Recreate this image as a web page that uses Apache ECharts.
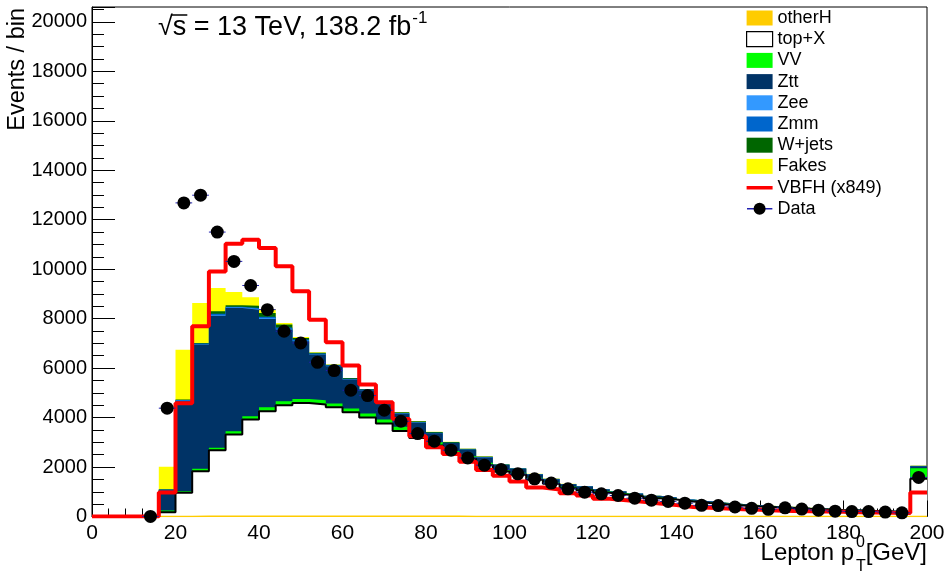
<!DOCTYPE html>
<html><head><meta charset="utf-8">
<script src="https://cdn.jsdelivr.net/npm/echarts@6/dist/echarts.min.js"></script>
<style>html,body{margin:0;padding:0;background:#fff}#c{width:949px;height:578px}</style>
</head><body><div id="c"></div>
<script>
// ---- data (bins of 4 GeV, 0-200; last bin includes overflow) ----
const binEdges = [0,4,8,12,16,20,24,28,32,36,40,44,48,52,56,60,64,68,72,76,80,84,88,92,96,100,104,108,112,116,120,124,128,132,136,140,144,148,152,156,160,164,168,172,176,180,184,188,192,196,200];
const xTicks = [0,20,40,60,80,100,120,140,160,180,200];
const yTicks = [0,2000,4000,6000,8000,10000,12000,14000,16000,18000,20000];

const otherH = [0,0,0,0,3,5,8,10,12,14,15,15,14,13,12,11,10,9,8,7,6,6,5,5,4,4,3,3,3,2,2,2,2,2,1,1,1,1,1,1,1,1,1,1,1,1,1,1,1,2];
const topX   = [0,0,0,0,172,953,1822,2670,3301,3905,4241,4483,4579,4512,4406,4204,3990,3749,3453,3171,2867,2533,2327,2072,1813,1684,1487,1320,1137,1057,957,888,815,734,682,604,542,486,448,404,369,343,308,281,254,237,219,201,188,1525];
const VV     = [0,0,0,0,67,64,96,95,137,134,162,162,162,175,148,149,162,161,163,135,125,115,105,95,85,80,72,65,58,54,50,46,42,38,36,32,30,27,25,23,21,20,18,17,16,15,14,13,12,420];
const Ztt    = [0,0,0,0,820,3640,5024,5346,4980,4311,3569,2896,2329,1845,1508,1171,938,640,530,480,366,313,261,218,183,161,139,122,104,96,83,74,65,57,52,45,40,35,31,28,25,23,20,18,17,15,14,13,12,87];
const Zee    = [0,0,0,0,10,20,20,25,20,30,30,25,20,15,12,10,10,8,8,6,6,5,5,4,3,3,2,2,2,2,1,1,1,1,1,1,1,1,1,0,0,0,0,0,0,0,0,0,0,2];
const Zmm    = [0,0,0,0,15,25,25,50,30,40,60,60,50,30,25,25,20,20,15,15,15,13,10,8,7,6,6,5,4,4,3,3,3,2,2,2,2,1,1,1,1,1,1,1,1,1,1,1,1,3];
const Wjets  = [0,0,0,0,10,20,15,100,60,91,150,120,66,30,20,25,25,28,33,33,33,29,24,20,17,15,13,11,10,8,8,7,6,5,5,4,3,3,3,3,3,2,2,2,1,1,1,1,1,8];
const Fakes  = [0,0,0,0,910,2020,1623,944,537,337,164,64,40,20,10,9,5,5,5,5,4,4,3,3,3,2,2,2,2,2,1,1,1,1,1,1,1,1,0,0,0,0,0,0,0,0,0,0,0,3];
const VBFH   = [0,0,0,0,970,4580,7690,9910,11030,11190,10855,10114,9104,7960,7044,6101,5333,4620,3947,3245,2800,2530,2215,1880,1650,1420,1170,1091,945,850,720,660,600,530,460,380,350,320,290,270,240,225,210,200,190,175,165,150,140,970];
const dataObs = [null,null,null,5,4380,12680,12990,11500,10315,9340,8364,7490,7018,6235,5900,5104,4889,4296,3852,3354,3044,2680,2370,2075,1900,1724,1522,1350,1120,983,916,848,741,660,610,540,450,440,385,330,290,350,300,256,215,200,200,180,148,1580];

const FONT = '"Liberation Sans", Arial, Helvetica, sans-serif';
const chart = echarts.init(document.getElementById('c'), null, {renderer: 'canvas'});

function stepPts(arr) { return binEdges.map((x, k) => [x, arr[Math.min(k, arr.length - 1)]]); }

const stackDefs = [
  {name: 'otherH', data: otherH, fill: '#ffcc00', line: '#ffcc00', lw: 1.5},
  {name: 'top+X', data: topX, fill: '#ffffff', line: '#000000', lw: 2},
  {name: 'VV', data: VV, fill: '#00ff00'},
  {name: 'Ztt', data: Ztt, fill: '#003366'},
  {name: 'Zee', data: Zee, fill: '#3399ff'},
  {name: 'Zmm', data: Zmm, fill: '#0066cc'},
  {name: 'W+jets', data: Wjets, fill: '#006600'},
  {name: 'Fakes', data: Fakes, fill: '#ffff00'}
];

// cumulative sums (stack), drawn from the top layer down so lower layers overlay
const cum = [];
stackDefs.forEach((d, k) => {
  cum.push(d.data.map((v, i) => v + (k > 0 ? cum[k - 1][i] : 0)));
});

const series = [];
for (let k = stackDefs.length - 1; k >= 0; k--) {
  const d = stackDefs[k];
  series.push({
    type: 'line', name: d.name, step: 'end',
    data: stepPts(cum[k]), symbol: 'none', showSymbol: false,
    lineStyle: d.lw ? {color: d.line, width: d.lw} : {width: 0, opacity: 0},
    areaStyle: {color: d.fill, opacity: 1},
    itemStyle: {color: d.fill},
    z: 2, silent: true, animation: false
  });
}

series.push({
  type: 'line', name: 'VBFH (x849)', step: 'end', data: stepPts(VBFH),
  symbol: 'none', showSymbol: false,
  lineStyle: {color: '#ff0000', width: 4}, itemStyle: {color: '#ff0000'},
  z: 3, silent: true, animation: false
});

const obsPts = [];
for (let i = 0; i < dataObs.length; i++) {
  if (dataObs[i] === null) continue;
  obsPts.push([(binEdges[i] + binEdges[i + 1]) / 2, dataObs[i], binEdges[i], binEdges[i + 1]]);
}

series.push({
  type: 'custom', name: 'Data', data: obsPts, encode: {x: 0, y: 1}, z: 4, silent: true, animation: false,
  renderItem: function (params, api) {
    const y = api.value(1);
    const p1 = api.coord([api.value(2), y]);
    const p2 = api.coord([api.value(3), y]);
    return {type: 'line', shape: {x1: p1[0], y1: p1[1], x2: p2[0], y2: p2[1]}, style: {stroke: '#2020b0', lineWidth: 1}};
  }
});
series.push({
  type: 'scatter', name: 'Data', data: obsPts.map(p => [p[0], p[1]]),
  symbol: 'circle', symbolSize: 13, itemStyle: {color: '#000000', opacity: 1}, z: 5, silent: true, animation: false
});

const redIcon = 'path://M0,0L0.01,0L0,0.01Z M0,6L26,6L26,9.5L0,9.5Z M26,15L25.99,15L26,14.99Z';
const dataSvg = "<svg xmlns='http://www.w3.org/2000/svg' width='26' height='15'><line x1='0' y1='7.5' x2='26' y2='7.5' stroke='#2020b0' stroke-width='1.5'/><circle cx='13' cy='7.5' r='6' fill='black'/></svg>";
const dataIcon = 'image://data:image/svg+xml;charset=utf-8,' + encodeURIComponent(dataSvg);

// measure text for the energy label
const mctx = document.createElement('canvas').getContext('2d');
function tw(txt, size) { mctx.font = size + 'px ' + FONT; return mctx.measureText(txt).width; }
const lumiMain = '\u221as = 13 TeV, 138.2 fb';
const lumiX = 158, lumiY = 28, lumiFs = 27;

const option = {
  animation: false,
  backgroundColor: '#ffffff',
  grid: {left: 92, right: 22, top: 7, bottom: 61.5, show: true, borderColor: '#000', borderWidth: 1, backgroundColor: 'transparent'},
  xAxis: {
    type: 'value', min: xTicks[0], max: xTicks[xTicks.length - 1], interval: 20,
    axisLine: {show: true, onZero: false, lineStyle: {color: '#000', width: 1}},
    axisTick: {show: true, inside: true, length: 16, lineStyle: {color: '#000'}},
    minorTick: {show: true, splitNumber: 5, length: 8, lineStyle: {color: '#000'}},
    splitLine: {show: false},
    axisLabel: {color: '#000', fontSize: 21, fontFamily: FONT, margin: 6}
  },
  yAxis: {
    type: 'value', min: yTicks[0], max: 20600, interval: 2000,
    axisLine: {show: true, lineStyle: {color: '#000', width: 1}},
    axisTick: {show: true, inside: true, length: 23, lineStyle: {color: '#000'}},
    minorTick: {show: true, splitNumber: 4, length: 12, lineStyle: {color: '#000'}},
    splitLine: {show: false},
    axisLabel: {color: '#000', fontSize: 20, fontFamily: FONT, margin: 5,
      formatter: v => (yTicks.indexOf(v) >= 0 ? String(v) : '')}
  },
  legend: {
    orient: 'vertical', left: 741, top: 4, itemWidth: 26, itemHeight: 15, itemGap: 3.2,
    selectedMode: false,
    textStyle: {fontSize: 18, color: '#000', fontFamily: FONT},
    data: [
      {name: 'otherH', icon: 'rect', itemStyle: {color: '#ffcc00', opacity: 1, borderWidth: 0}},
      {name: 'top+X', icon: 'rect', itemStyle: {color: '#ffffff', opacity: 1, borderColor: '#000', borderWidth: 1.2}},
      {name: 'VV', icon: 'rect', itemStyle: {color: '#00ff00', opacity: 1, borderWidth: 0}},
      {name: 'Ztt', icon: 'rect', itemStyle: {color: '#003366', opacity: 1, borderWidth: 0}},
      {name: 'Zee', icon: 'rect', itemStyle: {color: '#3399ff', opacity: 1, borderWidth: 0}},
      {name: 'Zmm', icon: 'rect', itemStyle: {color: '#0066cc', opacity: 1, borderWidth: 0}},
      {name: 'W+jets', icon: 'rect', itemStyle: {color: '#006600', opacity: 1, borderWidth: 0}},
      {name: 'Fakes', icon: 'rect', itemStyle: {color: '#ffff00', opacity: 1, borderWidth: 0}},
      {name: 'VBFH (x849)', icon: redIcon, itemStyle: {color: '#ff0000', opacity: 1, borderWidth: 0}},
      {name: 'Data', icon: dataIcon, itemStyle: {opacity: 1, borderWidth: 0}}
    ]
  },
  graphic: [
    {type: 'text', x: lumiX, y: lumiY, silent: true,
      style: {text: lumiMain, fontSize: lumiFs, fontFamily: FONT, fill: '#000', align: 'left', verticalAlign: 'middle'}},
    {type: 'text', x: lumiX + tw(lumiMain, lumiFs) + 1, y: lumiY - 10, silent: true,
      style: {text: '-1', fontSize: 17, fontFamily: FONT, fill: '#000', align: 'left', verticalAlign: 'middle'}},
    {type: 'line', silent: true,
      shape: {x1: lumiX + tw('\u221a', lumiFs) - 1, y1: lumiY - 13, x2: lumiX + tw('\u221as', lumiFs) + 1, y2: lumiY - 13},
      style: {stroke: '#000', lineWidth: 1.5}},
    {type: 'text', x: 18, y: 8, rotation: Math.PI / 2, silent: true,
      style: {text: 'Events / bin', fontSize: 23.5, fontFamily: FONT, fill: '#000', align: 'right', verticalAlign: 'middle'}},
    {type: 'text', x: 854, y: 553, silent: true,
      style: {text: 'Lepton p', fontSize: 24, fontFamily: FONT, fill: '#000', align: 'right', verticalAlign: 'middle'}},
    {type: 'text', x: 856, y: 543, silent: true,
      style: {text: '0', fontSize: 16, fontFamily: FONT, fill: '#000', align: 'left', verticalAlign: 'middle'}},
    {type: 'text', x: 856, y: 567, silent: true,
      style: {text: 'T', fontSize: 16, fontFamily: FONT, fill: '#000', align: 'left', verticalAlign: 'middle'}},
    {type: 'text', x: 927, y: 553, silent: true,
      style: {text: '[GeV]', fontSize: 24, fontFamily: FONT, fill: '#000', align: 'right', verticalAlign: 'middle'}}
  ],
  series: series
};
chart.setOption(option);
</script>
</body></html>
